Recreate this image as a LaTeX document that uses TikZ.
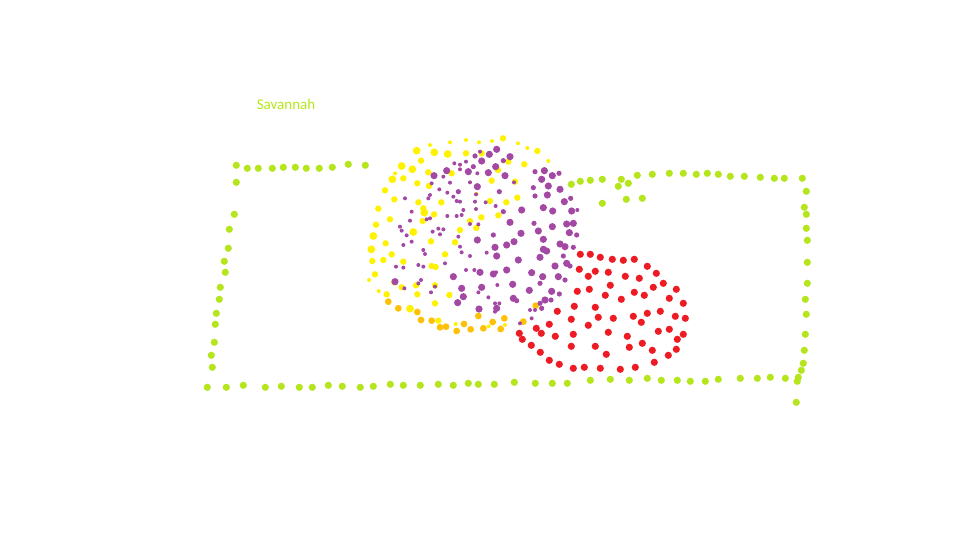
\documentclass[tikz,border=0pt]{standalone}
\usepackage{fontspec}
\setmainfont{Carlito}
\definecolor{lime}{RGB}{181,230,29}
\definecolor{yel}{RGB}{255,242,0}
\definecolor{gold}{RGB}{255,192,8}
\definecolor{purp}{RGB}{163,73,164}
\definecolor{redd}{RGB}{237,28,36}
\tikzset{
  limedot/.style={fill=lime},
  yeldot/.style={fill=yel},
  golddot/.style={fill=gold},
  purpdot/.style={fill=purp},
  reddot/.style={fill=redd}
}
\begin{document}
\begin{tikzpicture}[x=1pt,y=-1pt]
\useasboundingbox (0,0) rectangle (960,540);
\node[text=lime,font=\fontsize{15}{18}\selectfont] (title) at (286,104) {Savannah};
% green frame
\foreach \x/\y in {236.3/165.3, 247.3/168.3, 258.3/168.3, 272.3/168.3, 283.3/167.3, 295.3/167.3, 306.3/168.3, 319.3/168.3, 332.3/167.3, 348.3/164.3, 365.3/165.3,
236.3/182.3, 234.3/214.3, 229.3/229.3, 228.3/248.3, 224.3/261.3, 225.3/272.3, 220.3/287.3, 219.3/299.3, 216.3/313.3, 215.3/324.3, 214.3/342.3, 211.3/355.3, 212.3/367.3,
207.3/387.3, 226.3/387.3, 243.3/385.3, 265.3/387.3, 281.3/386.3, 299.3/387.3, 312.3/387.3, 328.3/385.3, 342.3/386.3, 360.3/387.3, 373.3/386.3, 390.3/384.3, 403.3/385.3, 420.3/385.3, 438.3/384.3, 453.3/385.3, 468.3/383.3, 478.3/384.3, 494.3/384.3, 514.3/382.3, 535.3/383.3, 552.3/383.3, 567.3/383.3, 590.3/380.3, 610.3/379.3, 629.3/380.3, 647.3/378.3, 661.3/380.3, 677.3/380.3, 690.3/381.3, 705.3/381.3, 718.3/379.3, 740.3/378.3, 757.3/378.3, 770.3/377.3, 785.3/378.3, 798.3/377.3, 797.3/381.3, 801.3/370.3, 796.3/402.3,
802.3/178.3, 806.3/191.3, 804.3/207.3, 806.3/214.3, 806.3/228.3, 807.3/240.3, 807.3/262.3, 807.3/283.3, 805.3/299.3, 806.3/314.3, 805.3/334.3, 804.3/350.3, 803.3/363.3,
571.3/184.3, 580.3/181.3, 590.3/180.3, 602.3/179.3, 621.3/179.3, 618.3/186.3, 628.3/183.3, 637.3/175.3, 652.3/174.3, 669.3/173.3, 683.3/173.3, 696.3/174.3, 707.3/173.3, 718.3/174.3, 730.3/176.3, 744.3/176.3, 760.3/177.3, 774.3/178.3, 784.3/178.3,
602.3/203.3, 626.3/199.3, 642.3/198.3}
  \fill[limedot] (\x,\y) circle[radius=3.6pt];
% yellow large
\foreach \x/\y in {170/62,223/67,263/72,125/108,157/118,97/148,193/248,40/318,160/306,34/358,150/536}
  \fill[yeldot] (360+\x/3,130+\y/3) circle[radius=3.9pt];
% yellow medium
\foreach \x/\y in {429/25,532/63,318/70,365/70,445/95,493/103,183/92,130/145,205/127,275/130,395/152,465/155,414/120,75/181,172/160,207/168,103/208,175/217,244/217,390/213,439/217,472/203,55/236,190/235,222/253,188/273,90/268,300/300,330/273,349/294,364/262,415/256,48/284,213/334,285/337,77/340,95/373,130/395,255/373,37/393,70/390,215/408,227/411,45/433,103/457,125/472,168/466,225/466,80/493,172/493,268/495,225/520,235/572}
  \fill[yeldot] (360+\x/3,130+\y/3) circle[radius=3.2pt];
% yellow small
\foreach \x/\y in {210/45,270/37,318/30,357/37,396/33,474/40,502/54,565/93,105/130,350/192,27/450,56/483,287/582,386/589,435/585}
  \fill[yeldot] (360+\x/3,130+\y/3) circle[radius=2pt];
% gold
\foreach \x/\y in {85/515,115/535,172/546,183/570,215/572,240/592,258/590,290/603,312/582,332/598,355/558,370/595,398/576,422/597,433/565,490/575,527/527}
  \fill[golddot] (360+\x/3,130+\y/3) circle[radius=3.4pt];
% purple large
\foreach \x/\y in {410/58,450/80,388/73,365/93,407/110,385/128,435/137,325/125,260/122,222/137,553/122,545/148,577/137,352/170,565/168,600/178,562/195,613/215,485/240,550/233,578/243,635/243,450/277,535/303,577/290,620/282,640/280,628/308,352/330,440/345,462/335,483/310,550/328,550/358,560/363,600/342,615/350,410/378,405/352,475/390,540/382,585/408,620/400,360/427,400/432,440/420,515/428,548/440,595/440,105/455,280/440,305/475,365/472,458/463,508/481,575/484,310/500,293/518,460/505,410/535,357/537,555/510}
  \fill[purpdot] (360+\x/3,130+\y/3) circle[radius=3.6pt];
% purple medium
\foreach \x/\y in {345/78,430/92,340/110,525/125,597/130,520/173,295/185,418/185,525/198,632/205,430/245,522/280,400/315,650/315,640/352,610/378,630/408,615/450,540/460,598/492,470/512,540/520,573/510,545/535}
  \fill[purpdot] (360+\x/3,130+\y/3) circle[radius=2.6pt];
% purple small
\foreach \x/\y in {318/95,300/104,283/100,360/65,300/118,352/130,250/140,215/160,270/158,330/157,462/157,348/193,238/178,262/188,205/205,210/195,280/200,290/213,300/215,345/215,310/240,348/237,377/217,407/228,652/240,155/245,135/205,150/272,200/268,210/265,262/258,290/258,305/255,330/282,355/283,120/290,125/302,140/316,218/305,235/296,250/298,240/313,295/320,130/345,155/335,190/360,195/372,300/350,305/367,330/378,380/368,108/410,130/413,175/405,190/410,255/400,318/420,343/420,408/427,183/450,175/460,133/475,225/470,213/487,412/465,355/487,385/502,405/520,418/520,510/540,525/540,515/565,405/545,480/580}
  \fill[purpdot] (360+\x/3,130+\y/3) circle[radius=2pt];
% red
\foreach \x/\y in {580.3/254.3, 590.3/254.3, 600.3/257.3, 612.3/259.3, 623.3/260.3, 634.3/259.3, 647.3/266.3, 656.3/273.3, 579.3/269.3, 588.3/276.3, 595.3/271.3, 608.3/272.3, 625.3/276.3, 639.3/278.3, 663.3/283.3, 610.3/285.3, 577.3/291.3, 589.3/289.3, 634.3/292.3, 644.3/295.3, 653.3/287.3, 676.3/289.3, 605.3/295.3, 621.3/299.3, 669.3/298.3, 683.3/303.3, 557.3/311.3, 574.3/306.3, 595.3/307.3, 571.3/319.3, 598.3/317.3, 613.3/318.3, 633.3/316.3, 647.3/313.3, 660.3/311.3, 675.3/316.3, 685.3/318.3, 549.3/324.3, 588.3/325.3, 641.3/322.3, 536.3/328.3, 541.3/333.3, 519.3/333.3, 522.3/339.3, 555.3/336.3, 573.3/334.3, 608.3/332.3, 627.3/336.3, 658.3/331.3, 669.3/329.3, 683.3/334.3, 677.3/339.3, 531.3/345.3, 571.3/346.3, 595.3/346.3, 629.3/347.3, 642.3/343.3, 652.3/350.3, 676.3/349.3, 540.3/352.3, 606.3/354.3, 668.3/355.3, 549.3/360.3, 559.3/364.3, 654.3/362.3, 573.3/368.3, 584.3/367.3, 600.3/368.3, 620.3/369.3, 635.3/367.3}
  \fill[reddot] (\x,\y) circle[radius=3.6pt];
\end{tikzpicture}
\end{document}
